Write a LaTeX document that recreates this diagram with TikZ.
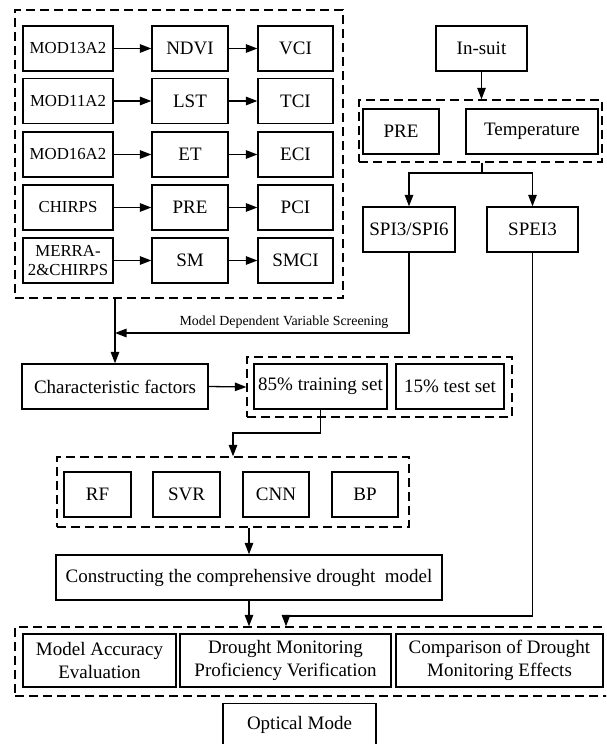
\documentclass[tikz,border=0pt]{standalone}
\usepackage{fontspec}
\setmainfont{Liberation Serif}
\usetikzlibrary{arrows.meta}
\begin{document}
\begin{tikzpicture}[x=1pt,y=-1pt,
  box/.style={draw, line width=1.3pt, inner sep=0pt, align=center, minimum height=45pt, font=\fontsize{19}{23}\selectfont},
  srcbox/.style={box, minimum width=90pt, font=\fontsize{16.8}{19.5}\selectfont},
  dbox/.style={draw, line width=1.3pt, dash pattern=on 9pt off 5pt, inner sep=0pt},
  arr/.style={line width=1.3pt, -{Triangle[length=11.5pt,width=8.5pt]}},
  ln/.style={line width=1.3pt}]
\clip (0,0) rectangle (606,744);
% dashed groups
\node[dbox, minimum width=328pt, minimum height=288pt] (g1) at (179,154) {};
\node[dbox, minimum width=243pt, minimum height=62pt] (g2) at (480.5,131) {};
\node[dbox, minimum width=265pt, minimum height=60pt] (g3) at (379.5,387) {};
\node[dbox, minimum width=352pt, minimum height=70pt] (g4) at (233,492) {};
\node[dbox, minimum width=595pt, minimum height=69pt] (g5) at (312.5,661.5) {};
% rows
\node[srcbox] (s1) at (68,48.5) {MOD13A2};
\node[srcbox] (s2) at (68,101) {MOD11A2};
\node[srcbox] (s3) at (68,154.5) {MOD16A2};
\node[srcbox] (s4) at (68,207.5) {CHIRPS};
\node[srcbox] (s5) at (68,260.5) {MERRA-\\2\&CHIRPS};
\node[box, minimum width=76pt] (p1) at (190,48.5) {NDVI};
\node[box, minimum width=76pt] (p2) at (190,101) {LST};
\node[box, minimum width=76pt] (p3) at (190,154.5) {ET};
\node[box, minimum width=76pt] (p4) at (190,207.5) {PRE};
\node[box, minimum width=76pt] (p5) at (190,260.5) {SM};
\node[box, minimum width=75pt] (c1) at (295.5,48.5) {VCI};
\node[box, minimum width=75pt] (c2) at (295.5,101) {TCI};
\node[box, minimum width=75pt] (c3) at (295.5,154.5) {ECI};
\node[box, minimum width=75pt] (c4) at (295.5,207.5) {PCI};
\node[box, minimum width=75pt] (c5) at (295.5,260.5) {SMCI};
\foreach \i in {1,...,5}{
  \draw[arr] (s\i) -- (p\i);
  \draw[arr] (p\i) -- (c\i);
}
% right side
\node[box, minimum width=91pt] (insuit) at (481.5,48.5) {In-suit};
\node[box, minimum width=76pt] (pre) at (401,131.5) {PRE};
\node[box, minimum width=132pt] (temp) at (532,131.5) {Temperature};
\node[box, minimum width=92pt] (spi) at (409,229.5) {SPI3/SPI6};
\node[box, minimum width=91pt] (spei) at (532.5,229.5) {SPEI3};
\draw[arr] (insuit.south) -- (insuit.south |- g2.north);
\coordinate (br) at (482,173);
\draw[ln] (br |- g2.south) -- (br);
\draw[arr] (br) -| (spi.north);
\draw[arr] (br) -| (spei.north);
% middle
\node[box, minimum width=186pt] (char) at (115,386.5) {Characteristic factors};
\node[box, minimum width=133pt] (train) at (320.5,386.5) {85\% training set};
\node[box, minimum width=108pt] (test) at (450,386.5) {15\% test set};
\draw[arr] (char.north |- g1.south) -- (char.north);
\coordinate (mdv) at (115,333);
\draw[arr] (spi.south) |- (mdv);
\node[font=\fontsize{13.9}{16}\selectfont, inner sep=0pt] (lab) at (284,322) {Model Dependent Variable Screening};
\draw[arr] (char.east) -- (g3.west);
% models
\node[box, minimum width=67pt] (rf) at (97.5,494.5) {RF};
\node[box, minimum width=67pt] (svr) at (186.5,494.5) {SVR};
\node[box, minimum width=66pt] (cnn) at (276,494.5) {CNN};
\node[box, minimum width=66pt] (bp) at (365,494.5) {BP};
\coordinate (k1) at (233,433);
\draw[arr] (train.south) |- (k1) -- (k1 |- g4.north);
\node[box, minimum width=386pt] (cons) at (249,577.5) {Constructing the comprehensive drought\ \ model};
\draw[arr] (cons.north |- g4.south) -- (cons.north);
\draw[arr] (cons.south) -- (cons.south |- g5.north);
% bottom
\node[box, minimum width=153pt, minimum height=53pt] (ma) at (99.5,660.5) {Model Accuracy\\Evaluation};
\node[box, minimum width=211pt, minimum height=53pt] (dm) at (285.5,660.5) {Drought Monitoring\\Proficiency Verification};
\node[box, minimum width=207pt, minimum height=53pt] (cp) at (499.5,660.5) {Comparison of Drought\\Monitoring Effects};
\coordinate (k2) at (286,616);
\draw[arr] (spei.south) |- (k2) -- (k2 |- g5.north);
\node[box, minimum width=153pt, minimum height=60pt, anchor=north] (opt) at (299.5,703) {};
\node[font=\fontsize{19}{23}\selectfont, inner sep=0pt] (optt) at (299.5,725) {Optical Mode};
\end{tikzpicture}
\end{document}
